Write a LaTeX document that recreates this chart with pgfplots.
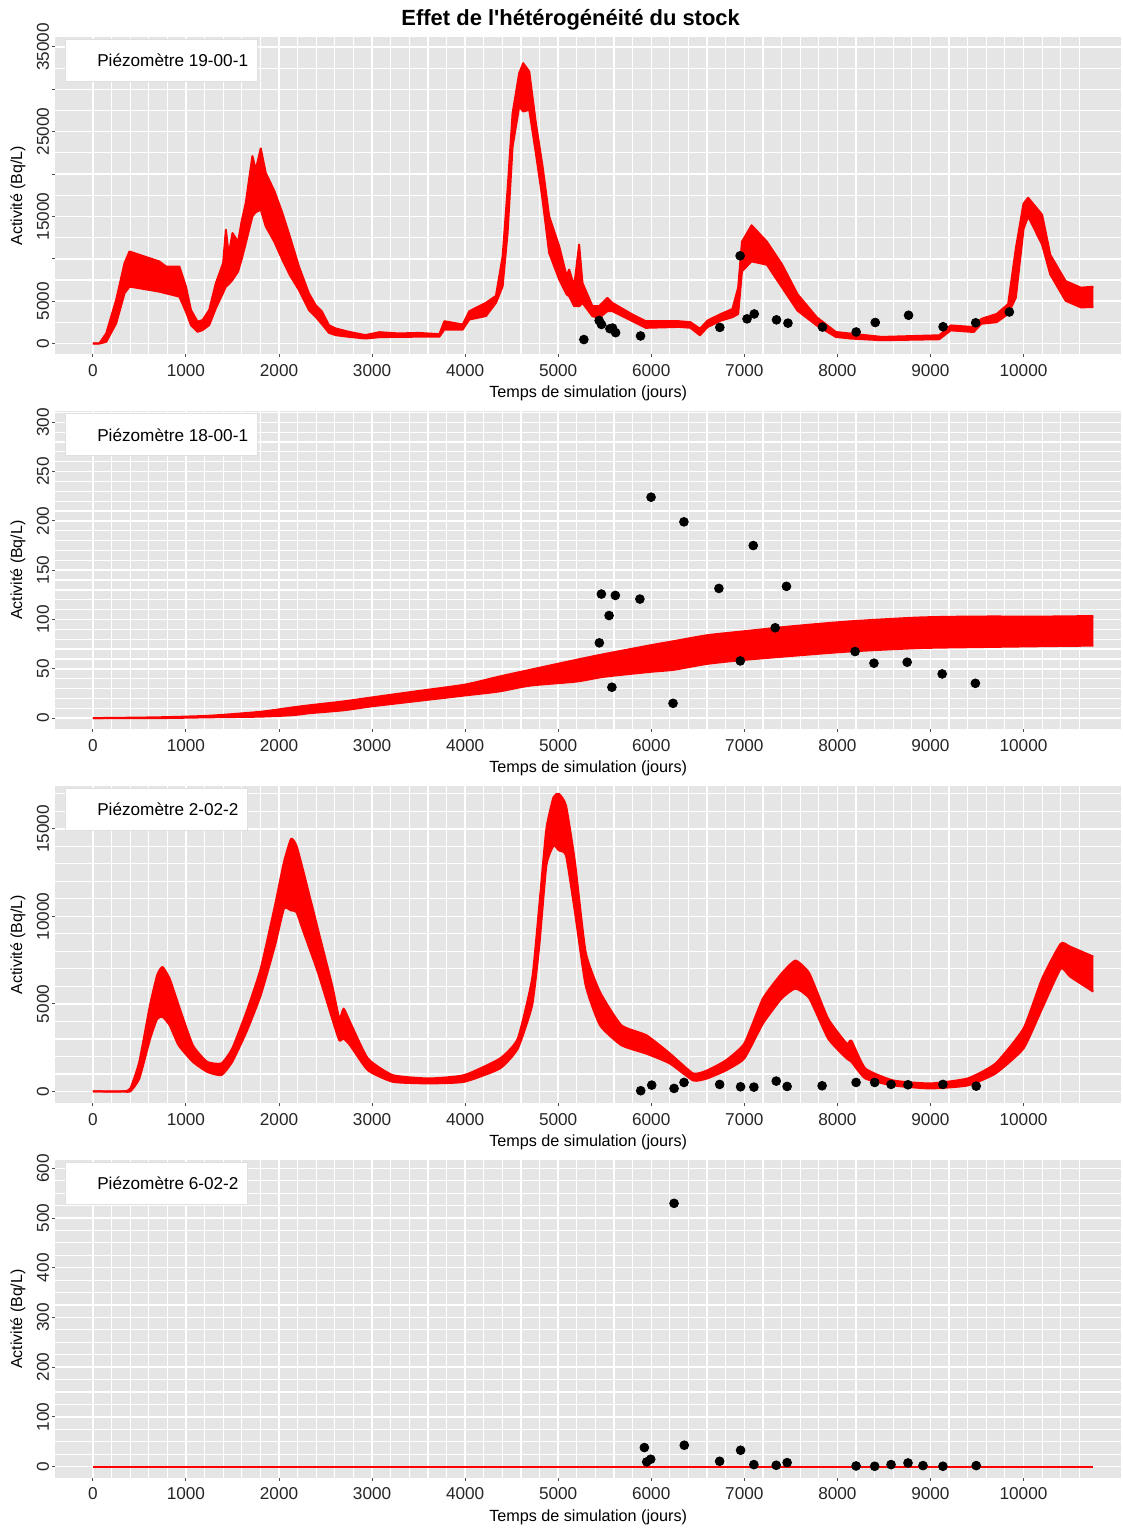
\documentclass[border=0pt]{standalone}
\usepackage{fontspec}
\setmainfont{Liberation Sans}[Ligatures=TeXOff]
\usepackage{pgfplots}
\pgfplotsset{compat=1.18}
\usepackage{pgfplotstable}
\usepgfplotslibrary{fillbetween}
\definecolor{bg}{RGB}{229,229,229}

\pgfplotstableread{
x u l
0 0 0
70 30 0
143 1185 200
250 5135 2370
340 9480 5925
393 10860 6715
500 10470 6520
714 9680 6120
786 9085 5925
929 9085 5530
1000 6715 3750
1054 3950 2170
1125 2570 1380
1179 2765 1580
1250 3950 2170
1321 7110 4150
1400 9500 6000
1429 13430 6715
1460 10500 7000
1500 13035 7505
1560 12000 8500
1600 14500 10000
1643 16590 11850
1680 19500 13500
1714 22120 15010
1750 20500 15500
1804 23030 15800
1857 20145 13825
1950 18000 12000
2036 15405 9875
2120 12500 8000
2214 9085 6320
2321 5925 3950
2393 4540 3160
2460 3800 2300
2536 2170 1265
2607 1780 990
2750 1380 790
2929 990 590
3079 1335 745
3286 1185 790
3500 1250 800
3723 1100 800
3777 2630 1650
3974 2240 1650
4045 3810 2830
4224 4800 3240
4331 5620 4790
4403 10290 6760
4456 18150 13040
4510 27180 23250
4581 31900 27970
4624 33080 27380
4689 32090 27580
4760 26010 22470
4832 20900 16970
4903 15000 10690
5011 11470 7540
5090 8000 5800
5118 8720 5580
5172 6760 4400
5225 11670 4400
5261 7150 4790
5368 4400 3220
5440 4400 3020
5529 5380 3810
5583 4790 3810
5798 3420 2630
5941 2630 1850
6298 2630 1960
6420 2520 1860
6523 1744 970
6605 2713 1938
6749 3488 2713
6872 4070 3100
6934 6589 3488
6975 12015 8527
7078 13950 9690
7243 12015 9300
7407 9300 6589
7572 5814 3876
7778 3100 2132
7984 1357 775
8148 1163 581
8477 775 388
9095 969 504
9218 2132 1550
9465 1938 1357
9547 2907 2326
9712 3488 2520
9835 4650 3488
9918 11240 5426
10000 16500 13500
10050 17200 15000
10200 15200 11670
10288 10465 8140
10453 7364 5040
10617 6589 4264
10750 6700 4300
}\pA

\pgfplotstableread{
x y
5276 465
5440 2713
5465 2248
5556 1744
5584 1822
5617 1279
5885 891
6737 1900
6955 10350
7029 2907
7107 3488
7346 2790
7469 2403
7840 1938
8202 1357
8407 2480
8765 3333
9136 1977
9486 2442
9848 3721
}\oA

\pgfplotstableread{
x u l
0 0 0
700 0.8 0
1250 2.4 0.8
1800 6.4 1.5
2150 10.9 3
2330 13 5
2700 17 8
3000 21 12
3500 27.5 17.5
4000 34 23
4362 42 27
4700 49 33
5190 59 37
5500 65 42
6000 74 47
6242 78 49
6600 84 55
6994 88 59
7500 93 63
8122 98 67.5
8874 102 71
9500 103 72
10258 103 73
10750 103.5 73.5
}\pB

\pgfplotstableread{
x y
5442 76.3
5464 125.8
5547 104
5577 31.3
5614 124.4
5878 120.7
5998 224
6234 15
6351 199
6727 131.5
6957 58
7096 175
7332 91.6
7453 133.6
8190 67.5
8393 55.7
8750 56.7
9126 44.8
9483 35.3
}\oB

\pgfplotstableread{
x u l
0 0 0
326 0 0
403 171 0
499 1700 741
614 4930 2990
690 6630 4140
748 7110 4260
825 6440 3780
921 4930 2640
1074 2640 1690
1228 1690 1120
1381 1600 930
1497 2450 1690
1650 4540 3400
1803 7010 5490
1957 10630 8340
2053 13100 10440
2130 14430 10340
2187 14050 10250
2264 12530 9100
2417 9290 6820
2571 6060 4160
2648 4160 2920
2694 4730 3020
2763 3970 2640
2955 1880 1210
3223 930 550
3607 740 460
3990 930 550
4374 1880 1310
4566 3020 2450
4720 6440 4920
4797 10630 8340
4873 15000 12910
4950 16810 14050
5007 17000 13770
5084 16330 13480
5180 13100 10250
5295 7960 6060
5449 5680 3780
5679 3780 2640
5947 3210 2160
6200 2168 1597
6450 1027 627
6600 1198 741
6800 1768 1198
7000 2738 1882
7200 5305 3879
7400 6731 5305
7550 7473 5876
7700 6731 5305
7900 4164 3023
8100 2738 1882
8150 2900 1700
8300 1312 741
8600 627 342
9000 456 171
9400 741 342
9700 1597 1027
10000 3594 2453
10200 6446 4735
10400 8443 7016
10500 8271 6560
10750 7700 5700
}\pC

\pgfplotstableread{
x y
5887 40
6005 360
6245 171
6352 513
6735 400
6960 266
7103 247
7343 590
7460 285
7836 323
8201 513
8401 513
8577 400
8759 380
9134 400
9492 304
}\oC

\pgfplotstableread{
x y
5926 38.3
5951 9.4
5994 14.8
6245 529.5
6355 43
6735 10.7
6960 32.9
7103 4
7343 2.7
7460 8
8201 1.3
8401 0.7
8577 4
8759 7.4
8920 2
9134 0.7
9492 2
}\oD

\pgfplotstableread{
x y
0 0
10750 0
}\pD

\pgfplotsset{
  myax/.style={
    scale only axis, width=534pt, height=159pt,
    xmin=-408, xmax=11052,
    scaled ticks=false,
    axis background/.style={fill=bg},
    axis line style={draw=none},
    grid=both,
    major grid style={white, line width=0.75pt},
    minor grid style={white, line width=0.6pt},
    xtick={0,1000,...,10000},
    xticklabels={0,1000,2000,3000,4000,5000,6000,7000,8000,9000,10000},
    minor xtick={200,400,600,800,1200,1400,1600,1800,2200,2400,2600,2800,3200,3400,3600,3800,4200,4400,4600,4800,5200,5400,5600,5800,6200,6400,6600,6800,7200,7400,7600,7800,8200,8400,8600,8800,9200,9400,9600,9800,10200,10400,10600},
    tick pos=left,
    tick align=outside,
    major tick length=1.5pt,
    minor tick length=0pt,
    tick style={draw=black!70, line width=0.5pt},
    ticklabel style={font=\fontsize{8.6}{10}\selectfont, text=black!85},
    yticklabel style={rotate=90, anchor=south, inner sep=1.2pt},
    xlabel={Temps de simulation (jours)},
    ylabel={Activité (Bq/L)},
    every axis x label/.style={at={(rel axis cs:0.5,-0.1226)}, anchor=center,
      font=\fontsize{8.1}{9}\selectfont},
    every axis y label/.style={at={(rel axis cs:-0.0346,0.5)}, rotate=90, anchor=center,
      font=\fontsize{8}{9}\selectfont},
  },
  band/.style={red, line width=1pt, line join=round},
  pts/.style={only marks, mark=*, mark size=2.2pt, black},
}
\tikzset{
  legbox/.style={anchor=north west, draw=black!12, fill=white, minimum height=21pt,
    inner xsep=4.5pt, font=\fontsize{8.6}{10}\selectfont},
}

\begin{document}
\begin{tikzpicture}
\path (0,0) rectangle (561.5pt,-765.5pt);
\node[anchor=base, font=\bfseries\fontsize{11}{13}\selectfont] at (285.75pt,-13pt) {Effet de l'hétérogénéité du stock};

% Panel 1
\begin{axis}[myax, at={(27.5pt,-18.5pt)}, anchor=north west,
  ymin=-1296, ymax=36178,
  ytick={0,5000,...,35000},
  yticklabels={0,5000,,15000,,25000,,35000},
  minor ytick={2500,7500,...,32500}]
\addplot[pts] table[x=x,y=y]{\oA};
\addplot[band, name path=u1] table[x=x,y=u]{\pA};
\addplot[band, name path=l1] table[x=x,y=l]{\pA};
\addplot[red] fill between[of=u1 and l1];
\node[legbox] at ([xshift=5pt,yshift=-1pt]rel axis cs:0,1) {\hspace*{11.5pt}Piézomètre 19-00-1};
\end{axis}

% Panel 2
\begin{axis}[myax, at={(27.5pt,-206pt)}, anchor=north west,
  ymin=-11, ymax=311,
  ytick={0,50,...,300},
  yticklabels={0,50,100,150,200,250,300},
  minor ytick={10,20,...,310}]
\addplot[pts] table[x=x,y=y]{\oB};
\addplot[band, smooth, tension=0.4, name path=u2] table[x=x,y=u]{\pB};
\addplot[band, smooth, tension=0.4, name path=l2] table[x=x,y=l]{\pB};
\addplot[red] fill between[of=u2 and l2];
\node[legbox] at ([xshift=5pt,yshift=-1pt]rel axis cs:0,1) {\hspace*{11.5pt}Piézomètre 18-00-1};
\end{axis}

% Panel 3
\begin{axis}[myax, at={(27.5pt,-393.5pt)}, anchor=north west,
  ymin=-685, ymax=17456,
  ytick={0,5000,10000,15000},
  yticklabels={0,5000,10000,15000},
  minor ytick={1000,2000,...,17000}]
\addplot[band, smooth, tension=0.3, name path=u3] table[x=x,y=u]{\pC};
\addplot[band, smooth, tension=0.3, name path=l3] table[x=x,y=l]{\pC};
\addplot[red] fill between[of=u3 and l3];
\addplot[pts] table[x=x,y=y]{\oC};
\node[legbox] at ([xshift=5pt,yshift=-1pt]rel axis cs:0,1) {\hspace*{11.5pt}Piézomètre 2-02-2};
\end{axis}

% Panel 4
\begin{axis}[myax, at={(27.5pt,-581pt)}, anchor=north west,
  ymin=-22.7, ymax=616,
  ytick={0,100,...,600},
  yticklabels={0,100,200,300,400,500,600},
  minor ytick={25,50,...,600}]
\addplot[red, line width=1pt] table[x=x,y=y]{\pD};
\addplot[pts] table[x=x,y=y]{\oD};
\node[legbox] at ([xshift=5pt,yshift=-1pt]rel axis cs:0,1) {\hspace*{11.5pt}Piézomètre 6-02-2};
\end{axis}
\end{tikzpicture}
\end{document}
